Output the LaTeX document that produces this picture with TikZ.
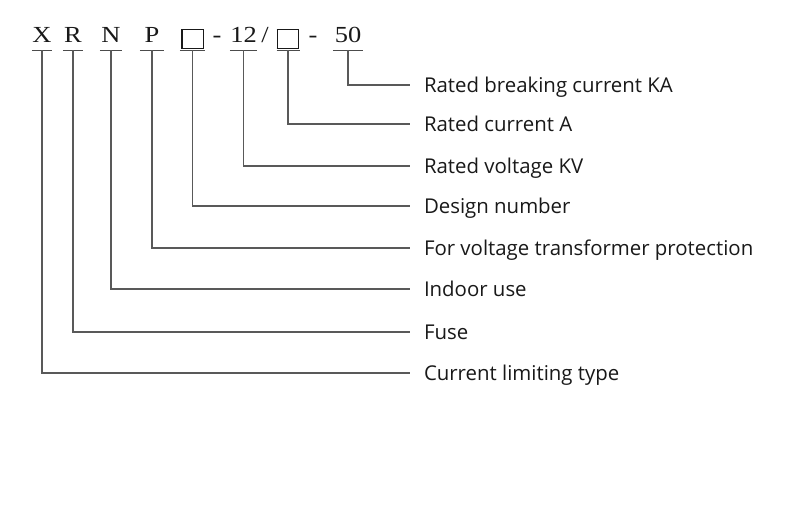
\documentclass[tikz,border=0pt]{standalone}
\usepackage{fontspec}
\setmainfont{Open Sans}
\newfontfamily\codefont[FakeStretch=1.15]{Liberation Serif}
\usetikzlibrary{positioning}

\newcommand{\sqbox}{\raisebox{-5pt}{\fboxsep=0pt\fboxrule=1.3pt\fbox{\rule{0pt}{18pt}\hspace{20pt}}}}

\tikzset{
  code/.style={font=\codefont\fontsize{23}{23}\selectfont, text=black!90, inner sep=0pt, anchor=base, text depth=7pt, minimum width=22pt},
  uline/.style={draw=black!70, line width=1.2pt},
  lead/.style={draw=black!65, line width=1.2pt},
  lab/.style={font=\fontsize{20.4}{20.4}\selectfont, text=black!90, anchor=west, inner ysep=0pt, inner xsep=0pt, outer xsep=14pt, text height=14.6pt, text depth=0pt}
}

\begin{document}
\begin{tikzpicture}[x=1pt, y=-1pt]
\useasboundingbox[fill=white] (0,0) rectangle (800,516);

% code line
\node[code, minimum width=20pt] (cX) at (42,43) {X};
\node[code, minimum width=20pt] (cR) at (73,43) {R};
\node[code] (cN) at (111,43) {N};
\node[code, minimum width=24pt] (cP) at (152,43) {P};
\node[code, minimum width=25pt] (cB) at (192.5,43) {\sqbox};
\node[code, minimum width=0pt] (d1) at (217,43) {-};
\node[code, minimum width=27pt] (c12) at (243.5,43) {12};
\node[code, minimum width=0pt] (sl) at (265,43) {/};
\node[code] (cB2) at (288,43) {\sqbox};
\node[code, minimum width=0pt] (d2) at (313,43) {-};
\node[code, minimum width=30pt] (c50) at (348,43) {50};

\foreach \n in {cX,cR,cN,cP,cB,c12,cB2,c50}
  \draw[uline] (\n.south west) -- (\n.south east);

% meanings
\node[lab] (lBreak) at (410,85) {Rated breaking current KA};
\node[lab] (lCurr) at (410,124) {Rated current A};
\node[lab] (lVolt) at (410,166) {Rated voltage KV};
\node[lab] (lDes) at (410,206) {Design number};
\node[lab] (lVT) at (410,248) {For voltage transformer protection};
\node[lab] (lIn) at (410,289) {Indoor use};
\node[lab] (lFuse) at (410,332) {Fuse};
\node[lab] (lLim) at (410,373) {Current limiting type};

\draw[lead] (c50.south) |- (lBreak.west);
\draw[lead] (cB2.south) |- (lCurr.west);
\draw[lead] (c12.south) |- (lVolt.west);
\draw[lead] (cB.south) |- (lDes.west);
\draw[lead] (cP.south) |- (lVT.west);
\draw[lead] (cN.south) |- (lIn.west);
\draw[lead] (cR.south) |- (lFuse.west);
\draw[lead] (cX.south) |- (lLim.west);
\end{tikzpicture}
\end{document}
